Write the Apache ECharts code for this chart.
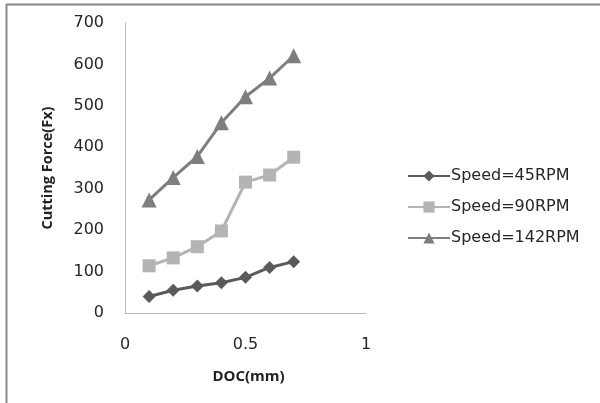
<!DOCTYPE html>
<html>
<head>
<meta charset="utf-8">
<script src="https://cdn.jsdelivr.net/npm/echarts@6/dist/echarts.min.js"></script>
<style>
html,body{margin:0;padding:0;background:#fff;}
#chart{width:600px;height:403px;}
</style>
</head>
<body>
<div id="chart"></div>
<script>
// Depth of cut (mm) and measured cutting force per spindle speed
const doc = [0.1, 0.2, 0.3, 0.4, 0.5, 0.6, 0.7];
const speed45 = [40, 55, 65, 73, 86, 110, 124];
const speed90 = [114, 133, 160, 198, 316, 333, 376];
const speed142 = [273, 327, 378, 459, 522, 567, 621];
const seriesNames = ['Speed=45RPM', 'Speed=90RPM', 'Speed=142RPM'];

const pairs = (xs, ys) => xs.map((x, i) => [x, ys[i]]);

const chart = echarts.init(document.getElementById('chart'));
const labelFont = "'DejaVu Sans', sans-serif";
const titleFont = "'Open Sans', sans-serif";

function lineSeries(name, values, color, symbol, size) {
  return {
    name: name,
    type: 'line',
    data: pairs(doc, values),
    symbol: symbol,
    symbolSize: size,
    lineStyle: { color: color, width: 3 },
    itemStyle: { color: color },
    emphasis: { disabled: true },
    animation: false
  };
}

chart.setOption({
  backgroundColor: '#fff',
  animation: false,
  graphic: [
    { type: 'line', shape: { x1: 6, y1: 4.5, x2: 600, y2: 4.5 }, style: { stroke: '#888', lineWidth: 2 } },
    { type: 'line', shape: { x1: 6.5, y1: 4, x2: 6.5, y2: 403 }, style: { stroke: '#888', lineWidth: 2 } }
  ],
  grid: { left: 125, right: 234, top: 23, bottom: 90 },
  legend: {
    orient: 'vertical',
    left: 402,
    top: 163,
    itemWidth: 42,
    itemHeight: 14,
    itemGap: 15,
    data: seriesNames,
    textStyle: { fontFamily: labelFont, fontSize: 16, color: '#262626', padding: [0, 0, 0, -4] }
  },
  xAxis: {
    type: 'value',
    min: 0, max: 1, interval: 0.5,
    name: 'DOC(mm)',
    nameLocation: 'middle',
    nameGap: 56,
    nameTextStyle: { fontFamily: titleFont, fontSize: 15, fontWeight: 'bold', color: '#222', padding: [0, 0, 0, 6] },
    axisLine: { show: true, lineStyle: { color: '#bbb', width: 1 } },
    axisTick: { show: false },
    splitLine: { show: false },
    axisLabel: { fontFamily: labelFont, fontSize: 16, color: '#262626', margin: 24 }
  },
  yAxis: {
    type: 'value',
    min: 0, max: 700, interval: 100,
    name: 'Cutting Force(Fx)',
    nameLocation: 'middle',
    nameGap: 70,
    nameTextStyle: { fontFamily: titleFont, fontSize: 14.5, fontWeight: 'bold', color: '#222' },
    axisLine: { show: true, lineStyle: { color: '#bbb', width: 1 } },
    axisTick: { show: false },
    splitLine: { show: false },
    axisLabel: { fontFamily: labelFont, fontSize: 16, color: '#262626', margin: 21 }
  },
  series: [
    lineSeries(seriesNames[0], speed45, '#5a5a5a', 'diamond', 13),
    lineSeries(seriesNames[1], speed90, '#b4b4b4', 'rect', 13),
    lineSeries(seriesNames[2], speed142, '#7e7e7e', 'triangle', 15)
  ]
});
</script>
</body>
</html>
